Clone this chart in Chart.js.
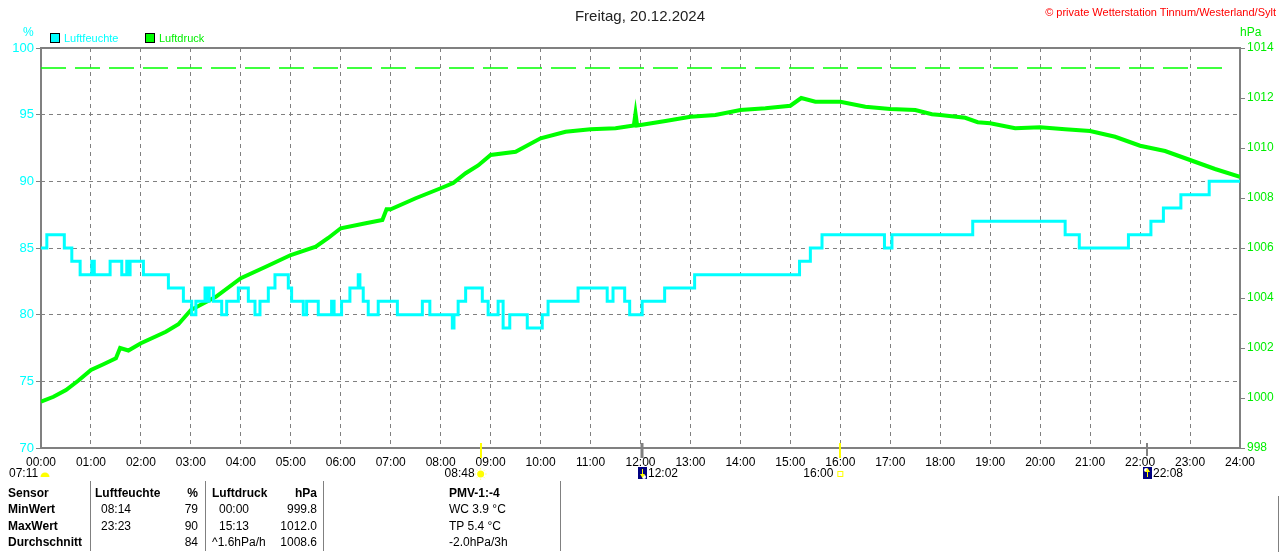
<!DOCTYPE html>
<html>
<head>
<meta charset="utf-8">
<title>Freitag, 20.12.2024</title>
<script src="https://cdn.jsdelivr.net/npm/chart.js@4.4.1/dist/chart.umd.min.js"></script>
<style>
    html, body { margin: 0; padding: 0; background: #fff; }
    body {
        width: 1280px; height: 552px; position: relative; overflow: hidden;
        font-family: "Liberation Sans", Arial, sans-serif; font-size: 12px; color: #000;
    }
    #chart { position: absolute; left: 0; top: 0; }
    .t { position: absolute; white-space: nowrap; line-height: 14px; }
    .b { font-weight: bold; }
    .sep { position: absolute; width: 1px; background: #808080; }
    .box { position: absolute; width: 8px; height: 8px; border: 1px solid #000; }
</style>
</head>
<body>
<canvas id="chart" width="1280" height="552"></canvas>

<!-- header -->
<div class="t" style="left:0;width:1280px;top:7px;text-align:center;font-size:15px;line-height:17px;color:#222;">Freitag, 20.12.2024</div>
<div class="t" style="right:4px;top:5px;font-size:11px;color:#ff0000;">© private Wetterstation Tinnum/Westerland/Sylt</div>
<div class="t" style="left:23px;top:25px;color:#00ffff;">%</div>
<div class="t" style="left:1240px;top:25px;color:#00ee00;">hPa</div>
<div class="box" style="left:50px;top:33px;background:#00ffff;"></div>
<div class="t" style="left:64px;top:31px;color:#00ffff;font-size:11px;">Luftfeuchte</div>
<div class="box" style="left:145px;top:33px;background:#00ff00;"></div>
<div class="t" style="left:159px;top:31px;color:#00ee00;font-size:11px;">Luftdruck</div>

<!-- statistics table -->
<div class="sep" style="left:90px;top:481px;height:70px;"></div>
<div class="sep" style="left:205px;top:481px;height:70px;"></div>
<div class="sep" style="left:323px;top:481px;height:70px;"></div>
<div class="sep" style="left:560px;top:481px;height:70px;"></div>
<div class="sep" style="left:1278px;top:496px;height:56px;"></div>
<div id="table"></div>

<script>
// --- Data ---
// humidity (%), step changes: minute of day -> value
const humMinutes = [0, 7, 28, 37, 47, 61, 64, 83, 97, 103, 106, 107, 123, 153, 171, 181, 186,
    197, 199, 202, 207, 217, 223, 237, 249, 257, 263, 273, 281, 297, 301, 315, 319, 333, 349, 352,
    361, 371, 381, 383, 387, 393, 405, 428, 458, 467, 494, 496, 501, 510, 530, 537, 549, 555, 563,
    584, 602, 609, 645, 680, 687, 701, 707, 722, 749, 785, 911, 924, 938, 1013, 1022, 1119, 1230,
    1247, 1306, 1333, 1348, 1369, 1403, 1440];
const humValues = [85, 86, 85, 84, 83, 84, 83, 84, 83, 84, 83, 84, 83, 82, 81, 80, 81,
    82, 81, 82, 81, 80, 81, 82, 81, 80, 81, 82, 83, 82, 81, 80, 81, 80, 81, 80,
    81, 82, 83, 82, 81, 80, 81, 80, 81, 80, 79, 80, 81, 82, 81, 80, 81, 79, 80,
    79, 80, 81, 82, 81, 82, 81, 80, 81, 82, 83, 84, 85, 86, 85, 86, 87, 86,
    85, 86, 87, 88, 89, 90, 90];

// air pressure (hPa)
const presMinutes = [0, 15, 30, 45, 60, 75, 90, 95, 105, 120, 150, 165, 180, 210, 240, 270, 300,
    330, 345, 360, 390, 410, 415, 420, 450, 480, 495, 510, 525, 540, 570, 600, 630, 660, 690, 712,
    714, 716, 720, 750, 780, 810, 840, 870, 900, 913, 930, 960, 990, 1020, 1050, 1070, 1080, 1110,
    1125, 1140, 1170, 1200, 1230, 1260, 1290, 1320, 1350, 1380, 1410, 1440];
const presValues = [999.85, 1000.05, 1000.32, 1000.7, 1001.12, 1001.35, 1001.59, 1002.0, 1001.9,
    1002.19, 1002.65, 1002.95, 1003.52, 1004.05, 1004.79, 1005.25, 1005.72, 1006.05, 1006.4, 1006.79,
    1006.99, 1007.12, 1007.55, 1007.55, 1007.99, 1008.39, 1008.6, 1008.99, 1009.3, 1009.72, 1009.85,
    1010.39, 1010.65, 1010.75, 1010.79, 1010.9, 1011.39, 1010.9, 1010.92, 1011.08, 1011.25, 1011.32,
    1011.52, 1011.59, 1011.69, 1012.0, 1011.85, 1011.85, 1011.65, 1011.56, 1011.52, 1011.35, 1011.32,
    1011.21, 1011.03, 1010.99, 1010.79, 1010.83, 1010.75, 1010.68, 1010.45, 1010.09, 1009.88,
    1009.52, 1009.16, 1008.85];

// dashed reference line (hPa)
const refLineMinutes = [0, 1428];
const refLineValues = [1013.2, 1013.2];

// sun / moon events
const sunrise = 528;   // 08:48
const sunset = 960;    // 16:00
const moonset = 722;   // 12:02
const moonrise = 1328; // 22:08

// statistics table
const tableRows = [
    ['Sensor', 'Luftfeuchte', '%', 'Luftdruck', 'hPa', 'PMV-1:-4'],
    ['MinWert', '08:14', '79', '00:00', '999.8', 'WC 3.9 °C'],
    ['MaxWert', '23:23', '90', '15:13', '1012.0', 'TP 5.4 °C'],
    ['Durchschnitt', '', '84', '^1.6hPa/h', '1008.6', '-2.0hPa/3h']
];

const toPoints = (xs, ys) => xs.map((x, i) => ({ x: x, y: ys[i] }));
const hhmm = m => String(Math.floor(m / 60)).padStart(2, '0') + ':' + String(m % 60).padStart(2, '0');
const FONT = '"Liberation Sans", Arial, sans-serif';

// --- Table ---
const table = document.getElementById('table');
const rowTops = [486, 502, 519, 535];
tableRows.forEach((row, r) => {
    const bold = r === 0;
    const cells = [
        { text: row[0], left: 8, bold: true },
        { text: row[1], left: r === 0 ? 95 : 101, bold: bold },
        { text: row[2], right: 1280 - 198, bold: bold },
        { text: row[3], left: (r === 0 || r === 3) ? 212 : 219, bold: bold },
        { text: row[4], right: 1280 - 317, bold: bold },
        { text: row[5], left: 449, bold: bold }
    ];
    cells.forEach(c => {
        const d = document.createElement('div');
        d.className = 't' + (c.bold ? ' b' : '');
        d.textContent = c.text;
        d.style.top = rowTops[r] + 'px';
        if (c.left !== undefined) d.style.left = c.left + 'px';
        else d.style.right = c.right + 'px';
        table.appendChild(d);
    });
});

// --- Extras: frame, event marks and icons ---
const extrasPlugin = {
    id: 'extras',
    beforeDatasetsDraw(chart) {
        const a = chart.chartArea;
        const ctx = chart.ctx;
        ctx.save();
        ctx.strokeStyle = '#808080';
        ctx.lineWidth = 2;
        ctx.strokeRect(a.left, a.top, a.right - a.left, a.bottom - a.top);
        ctx.restore();
    },
    afterDraw(chart) {
        const ctx = chart.ctx;
        const xs = chart.scales.x;
        ctx.save();

        // event marks on the time axis
        const mark = (m, color, w, y1, y2) => {
            const x = Math.round(xs.getPixelForValue(m));
            ctx.fillStyle = color;
            ctx.fillRect(x - w / 2, y1, w, y2 - y1);
        };
        mark(sunrise, '#ffff00', 2, 443, 458);
        mark(sunset, '#ffff00', 2, 443, 458);
        mark(moonset, '#808080', 3, 443, 458);
        mark(moonrise, '#808080', 2, 443, 456);

        ctx.font = '12px ' + FONT;
        ctx.fillStyle = '#000';
        ctx.textBaseline = 'middle';
        const ly = 474;

        // dawn
        ctx.textAlign = 'left';
        ctx.fillText('07:11', 9, ly);
        ctx.fillStyle = '#ffff00';
        ctx.beginPath();
        ctx.arc(45, 477, 4.5, Math.PI, 0);
        ctx.fill();

        // sunrise
        let x = xs.getPixelForValue(sunrise);
        ctx.fillStyle = '#000';
        ctx.textAlign = 'right';
        ctx.fillText(hhmm(sunrise), x - 6, ly);
        ctx.fillStyle = '#ffff00';
        ctx.beginPath();
        ctx.arc(x, ly, 3.5, 0, Math.PI * 2);
        ctx.fill();
        ctx.strokeStyle = '#ffff80';
        ctx.lineWidth = 1;
        for (let i = 0; i < 8; i++) {
            const ang = i * Math.PI / 4;
            ctx.beginPath();
            ctx.moveTo(x + Math.cos(ang) * 4.5, ly + Math.sin(ang) * 4.5);
            ctx.lineTo(x + Math.cos(ang) * 6, ly + Math.sin(ang) * 6);
            ctx.stroke();
        }

        // sunset
        x = xs.getPixelForValue(sunset);
        ctx.fillStyle = '#000';
        ctx.textAlign = 'right';
        ctx.fillText(hhmm(sunset), x - 7, ly);
        ctx.strokeStyle = '#ffff00';
        ctx.strokeRect(x - 2.5, ly - 2.5, 5, 5);

        // moon icons
        const moon = (m, up) => {
            const mx = Math.round(xs.getPixelForValue(m));
            ctx.fillStyle = '#000080';
            ctx.fillRect(mx - 4, 467, 9, 12);
            ctx.fillStyle = '#ffffff';
            ctx.beginPath();
            if (up) ctx.arc(mx - 1, 470, 2, 0, Math.PI * 2);
            else ctx.arc(mx + 2, 477, 2, 0, Math.PI * 2);
            ctx.fill();
            ctx.fillStyle = '#ffff00';
            ctx.fillRect(mx, 469, 1, 8);
            ctx.beginPath();
            if (up) { ctx.moveTo(mx - 2, 472); ctx.lineTo(mx + 3, 472); ctx.lineTo(mx + 0.5, 468); }
            else { ctx.moveTo(mx - 2, 474); ctx.lineTo(mx + 3, 474); ctx.lineTo(mx + 0.5, 478); }
            ctx.fill();
            ctx.fillStyle = '#000';
            ctx.textAlign = 'left';
            ctx.fillText(hhmm(m), mx + 6, ly);
        };
        moon(moonset, false);
        moon(moonrise, true);

        ctx.restore();
    }
};

// --- Chart ---
const ctx = document.getElementById('chart').getContext('2d');
new Chart(ctx, {
    type: 'line',
    data: {
        datasets: [
            {
                label: 'Luftfeuchte',
                data: toPoints(humMinutes, humValues),
                yAxisID: 'y',
                borderColor: '#00ffff',
                borderWidth: 3,
                pointRadius: 0,
                stepped: true,
                tension: 0
            },
            {
                label: 'Luftdruck',
                data: toPoints(presMinutes, presValues),
                yAxisID: 'y1',
                borderColor: '#00ff00',
                borderWidth: 4,
                pointRadius: 0,
                tension: 0
            },
            {
                label: 'Referenz',
                data: toPoints(refLineMinutes, refLineValues),
                yAxisID: 'y1',
                borderColor: '#00ff00',
                borderWidth: 1.5,
                borderDash: [25, 9],
                pointRadius: 0
            }
        ]
    },
    options: {
        responsive: false,
        animation: false,
        devicePixelRatio: 1,
        layout: { padding: { top: 48, left: 0, right: 0, bottom: 0 } },
        plugins: {
            legend: { display: false },
            tooltip: { enabled: false }
        },
        scales: {
            x: {
                type: 'linear',
                min: 0,
                max: 1440,
                afterFit: s => { s.height = 104; },
                ticks: {
                    stepSize: 60,
                    autoSkip: false,
                    maxRotation: 0,
                    padding: 7,
                    color: '#000',
                    font: { family: FONT, size: 12 },
                    callback: v => hhmm(v)
                },
                grid: { color: '#808080', lineWidth: 1, drawTicks: false, tickLength: 0 },
                border: { display: false, dash: [4, 4] }
            },
            y: {
                position: 'left',
                min: 70,
                max: 100,
                afterFit: s => { s.width = 41; },
                ticks: {
                    stepSize: 5,
                    padding: 2,
                    color: '#00ffff',
                    font: { family: FONT, size: 13 }
                },
                grid: { color: '#808080', lineWidth: 1, tickLength: 5, tickColor: '#808080' },
                border: { display: false, dash: [4, 4] }
            },
            y1: {
                position: 'right',
                min: 998,
                max: 1014,
                afterFit: s => { s.width = 40; },
                ticks: {
                    stepSize: 2,
                    padding: 2,
                    color: '#00ee00',
                    font: { family: FONT, size: 12 },
                    callback: v => String(v)
                },
                grid: { drawOnChartArea: false, tickLength: 5, tickColor: '#808080', color: '#808080' },
                border: { display: false }
            }
        }
    },
    plugins: [extrasPlugin]
});
</script>
</body>
</html>
